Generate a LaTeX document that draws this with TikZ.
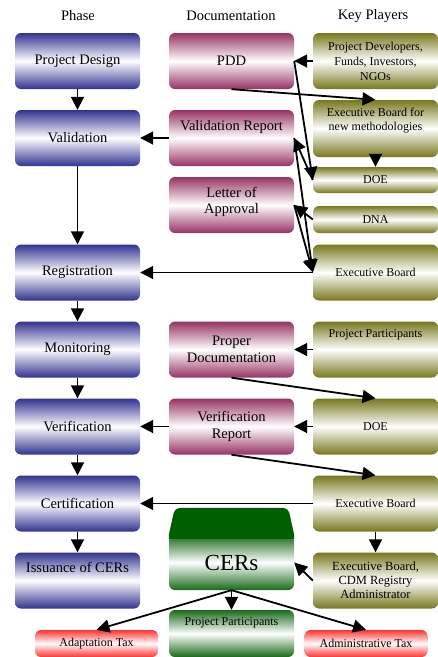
\documentclass[tikz,border=0pt]{standalone}
\usepackage{fontspec}
\setmainfont{Liberation Serif}
\usepackage{tikz}
\usetikzlibrary{arrows.meta}

\definecolor{phaseblue}{RGB}{50,50,145}
\definecolor{docpink}{RGB}{150,50,100}
\definecolor{keyolive}{RGB}{120,120,30}
\definecolor{cergreen}{RGB}{25,105,25}
\definecolor{cerdark}{RGB}{0,95,0}
\definecolor{taxred}{RGB}{255,50,50}

\tikzset{
  box/.style={rectangle, rounded corners=6pt, minimum width=125pt, minimum height=56pt,
    inner sep=2pt, align=center, font=\fontsize{14.5}{17}\selectfont},
  phasebox/.style={box, top color=phaseblue, bottom color=phaseblue, middle color=white},
  docbox/.style={box, top color=docpink, bottom color=docpink, middle color=white},
  keybox/.style={box, top color=keyolive, bottom color=keyolive, middle color=white,
    font=\fontsize{12}{15}\selectfont},
  cerbox/.style={box, top color=cergreen, bottom color=cergreen, middle color=white},
  taxbox/.style={box, minimum width=123pt, minimum height=27pt, top color=taxred,
    bottom color=taxred, middle color=white, font=\fontsize{12}{14}\selectfont},
  flow/.style={-{Triangle[length=13pt,width=13pt]}, line width=1.8pt}
}

\begin{document}
\begin{tikzpicture}[x=1pt, y=-1pt]
  \useasboundingbox (0,0) rectangle (438,657);
  % column heads
  \node[font=\fontsize{14.5}{16}\selectfont] (hphase) at (78,16) {Phase};
  \node[font=\fontsize{14.5}{16}\selectfont] (hdoc) at (231,16) {Documentation};
  \node[font=\fontsize{14.5}{16}\selectfont] (hkey) at (373,16) {Key Players};

  % phases
  \node[phasebox] (design) at (77.5,61) {Project Design};
  \node[phasebox] (valid) at (77.5,138) {Validation};
  \node[phasebox] (regis) at (77.5,272.5) {Registration};
  \node[phasebox] (monit) at (77.5,349.5) {Monitoring};
  \node[phasebox] (verif) at (77.5,426.5) {Verification};
  \node[phasebox] (certif) at (77.5,503.5) {Certification};
  \node[phasebox, label={[anchor=north, inner sep=0pt, yshift=-10pt, font=\fontsize{14.5}{17}\selectfont]north:Issuance of CERs}] (issue) at (77.5,580.5) {};

  % documentation
  \node[docbox] (pdd) at (231.5,61) {PDD};
  \node[docbox, label={[anchor=north, inner sep=0pt, yshift=-10pt, font=\fontsize{14.5}{17}\selectfont]north:Validation Report}] (valrep) at (231.5,138) {};
  \node[docbox, label={[anchor=north, inner sep=0pt, yshift=-10pt, align=center, font=\fontsize{14.5}{16.5}\selectfont]north:Letter of\\Approval}] (letter) at (231.5,205) {};
  \node[docbox] (propdoc) at (231.5,349.5) {Proper\\Documentation};
  \node[docbox] (verrep) at (231.5,426.5) {Verification\\Report};
  % CERs folder
  \node[cerbox, minimum height=55pt, font=\fontsize{23}{25}\selectfont] (cers) at (231.5,562.5) {CERs};
  \fill[cerdark] ([yshift=-4pt]cers.north west) -- (cers.north west) [rounded corners=5pt]
    -- ([shift={(6,-27)}]cers.north west) -- ([shift={(-6,-27)}]cers.north east) [sharp corners]
    -- (cers.north east) -- ([yshift=-4pt]cers.north east) -- cycle;
  \node[cerbox, minimum height=47pt, label={[anchor=north, inner sep=0pt, yshift=-8pt, font=\fontsize{12}{14}\selectfont]north:Project Participants}] (partgreen) at (231.5,633.5) {};
  \node[taxbox] (adapt) at (96.5,643.5) {Adaptation Tax};
  \node[taxbox] (admin) at (366,643.5) {Administrative Tax};

  % key players
  \node[keybox] (pdev) at (375.5,61) {Project Developers,\\Funds, Investors,\\NGOs};
  \node[keybox, minimum height=57pt, label={[anchor=north, inner sep=0pt, yshift=-8pt, align=center, font=\fontsize{12}{14.5}\selectfont]north:Executive Board for\\new methodologies}] (ebnew) at (375.5,128.5) {};
  \node[keybox, minimum height=26pt] (doeone) at (375.5,180) {DOE};
  \node[keybox, minimum height=27pt] (dna) at (375.5,219.5) {DNA};
  \node[keybox] (ebone) at (375.5,272.5) {Executive Board};
  \node[keybox, label={[anchor=north, inner sep=0pt, yshift=-8pt, font=\fontsize{12}{14}\selectfont]north:Project Participants}] (partolive) at (375.5,349.5) {};
  \node[keybox] (doetwo) at (375.5,426.5) {DOE};
  \node[keybox] (ebtwo) at (375.5,503.5) {Executive Board};
  \node[keybox, font=\fontsize{12.5}{14}\selectfont] (ebcdm) at (375.5,580.5) {Executive Board,\\CDM Registry\\Administrator};

  % phase flow
  \foreach \a/\b in {design/valid, valid/regis, regis/monit, monit/verif, verif/certif, certif/issue}
    \draw[flow] (\a) -- (\b);

  % validation and registration
  \draw[flow] (pdev.west) -- (pdd.east);
  \draw[flow] (pdd.south) -- (ebnew.north);
  \draw[flow] (ebnew) -- (doeone);
  \draw[flow] (pdd.east) -- (doeone.west);
  \draw[flow] (doeone.west) -- (valrep.east);
  \draw[flow] (valrep.west) -- (valid.east);
  \draw[flow] (dna.west) -- (letter.east);
  \draw[flow] (valrep.east) -- (ebone.west);
  \draw[flow] (letter.east) -- (ebone.west);
  \draw[flow] (ebone.west) -- (regis.east);

  % monitoring, verification, certification
  \draw[flow] (partolive.west) -- (propdoc.east);
  \draw[flow] (propdoc.south) -- (doetwo.north);
  \draw[flow] (doetwo.west) -- (verrep.east);
  \draw[flow] (verrep.west) -- (verif.east);
  \draw[flow] (verrep.south) -- (ebtwo.north);
  \draw[flow] (ebtwo.west) -- (certif.east);
  \draw[flow] (ebtwo) -- (ebcdm);

  % issuance
  \draw[flow] (ebcdm.west) -- (cers.east);
  \draw[flow] (cers.south) -- (partgreen.north);
  \draw[flow] (cers.south) -- (adapt.north);
  \draw[flow] (cers.south) -- (admin.north);
\end{tikzpicture}
\end{document}
